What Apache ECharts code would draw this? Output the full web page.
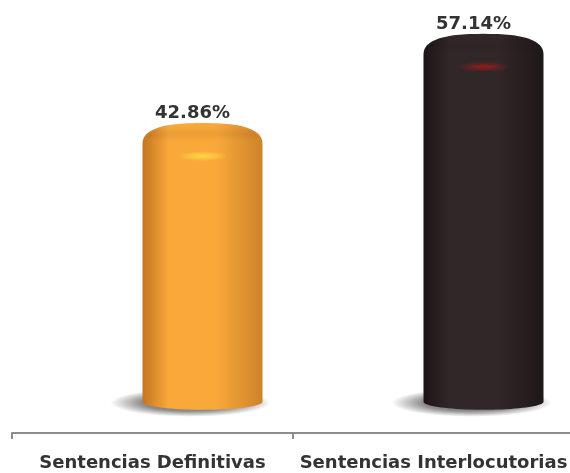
<!DOCTYPE html>
<html>
<head>
<meta charset="utf-8">
<script src="https://cdn.jsdelivr.net/npm/echarts@6/dist/echarts.min.js"></script>
<style>html,body{margin:0;padding:0;background:#fff}#c{width:570px;height:473px}</style>
</head>
<body>
<div id="c"></div>
<script>
const categories = ['Sentencias Definitivas', 'Sentencias Interlocutorias'];
const values = [42.86, 57.14];

const palettes = [
  { edgeL: '#c47520', mid: '#f9a83a', edgeR: '#cd8329', hi: [255, 222, 70, 0.95] },
  { edgeL: '#1b1415', mid: '#322728', edgeR: '#1e1718', hi: [170, 25, 25, 0.85] }
];

const chart = echarts.init(document.getElementById('c'), null, { renderer: 'canvas' });

function grad(p) {
  return new echarts.graphic.LinearGradient(0, 0, 1, 0, [
    { offset: 0, color: p.edgeL },
    { offset: 0.22, color: p.mid },
    { offset: 0.62, color: p.mid },
    { offset: 1, color: p.edgeR }
  ]);
}

function rgba(c, a) { return 'rgba(' + c[0] + ',' + c[1] + ',' + c[2] + ',' + a + ')'; }

function renderItem(params, api) {
  const i = params.dataIndex;
  const p = palettes[i];
  const v = api.value(1);
  const top = api.coord([api.value(0), v]);
  const base = api.coord([api.value(0), 0]);
  const cx = top[0] + 50;
  const hw = 60;
  const L = cx - hw, R = cx + hw;
  const capH = 11;
  const yT = top[1] - capH, yS = top[1] + capH, yB = base[1];
  const e = 8;
  const pts = [];
  pts.push([L, yS]);
  pts.push([L, yB]);
  for (let k = 0; k <= 40; k++) {
    const t = Math.PI - Math.PI * k / 40;
    pts.push([cx + hw * Math.cos(t), yB + e * Math.sin(t)]);
  }
  pts.push([R, yS]);
  const n = 2.6;
  for (let k = 0; k <= 60; k++) {
    const t = Math.PI * k / 60;
    const c = Math.cos(t), s = Math.sin(t);
    const x = cx + hw * Math.sign(c) * Math.pow(Math.abs(c), 2 / n);
    const y = yS - (yS - yT) * Math.pow(Math.abs(s), 2 / n);
    pts.push([x, y]);
  }
  const capPts = [];
  for (let k = 0; k <= 60; k++) {
    const t = Math.PI * k / 60;
    const c = Math.cos(t), s = Math.sin(t);
    capPts.push([cx + (hw - 4) * Math.sign(c) * Math.pow(Math.abs(c), 2 / n),
                 yS - 4 - (yS - yT - 6) * Math.pow(Math.abs(s), 2 / n)]);
  }
  return {
    type: 'group',
    children: [
      {
        type: 'circle', x: cx - 12, y: yB + 1, scaleX: 80 / 14, scaleY: 1,
        shape: { cx: 0, cy: 0, r: 14 },
        style: { fill: new echarts.graphic.RadialGradient(0.5, 0.5, 0.5, [
          { offset: 0, color: 'rgba(0,0,0,0.6)' },
          { offset: 0.6, color: 'rgba(0,0,0,0.45)' },
          { offset: 1, color: 'rgba(0,0,0,0)' }
        ]) }
      },
      { type: 'polygon', shape: { points: pts }, style: { fill: grad(p) } },
      { type: 'polygon', shape: { points: capPts }, style: { fill: new echarts.graphic.LinearGradient(0, 0, 0, 1, [
          { offset: 0, color: 'rgba(0,0,0,0)' },
          { offset: 0.6, color: 'rgba(0,0,0,0.06)' },
          { offset: 1, color: 'rgba(0,0,0,0)' }
        ]) } },
      {
        type: 'circle', x: cx, y: yS + 11, scaleX: 26 / 5, scaleY: 1,
        shape: { cx: 0, cy: 0, r: 5 },
        style: { fill: new echarts.graphic.RadialGradient(0.5, 0.5, 0.5, [
          { offset: 0, color: rgba(p.hi, p.hi[3]) },
          { offset: 1, color: rgba(p.hi, 0) }
        ]) }
      },
      {
        type: 'text', x: cx - 10, y: yT - 1,
        style: {
          text: v.toFixed(2) + '%', fill: '#333333',
          font: 'bold 18px "DejaVu Sans"', align: 'center', verticalAlign: 'bottom'
        }
      }
    ]
  };
}

chart.setOption({
  animation: false,
  grid: { left: 12, width: 562, top: 27, bottom: 40, containLabel: false, outerBoundsMode: 'none' },
  xAxis: {
    type: 'category', data: categories, boundaryGap: true,
    axisLine: { onZero: false, lineStyle: { color: '#8c8c8c', width: 2 } },
    axisTick: { show: true, length: 6, lineStyle: { color: '#8c8c8c', width: 2 } },
    axisLabel: { interval: 0, margin: 21, color: '#333333', fontWeight: 'bold', fontSize: 18, fontFamily: 'DejaVu Sans' }
  },
  yAxis: { type: 'value', min: -5, max: 60, show: false, splitLine: { show: false } },
  series: [{
    type: 'custom', renderItem: renderItem, clip: false,
    data: values.map((v, i) => [i, v])
  }]
});
</script>
</body>
</html>
